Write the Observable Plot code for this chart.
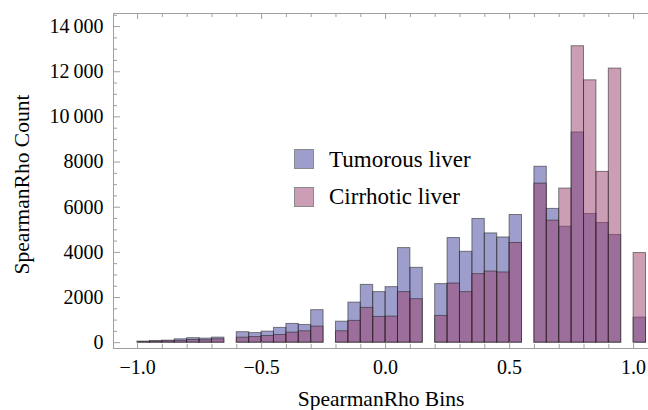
<!DOCTYPE html>
<html>
<head>
<meta charset="utf-8">
<script src="https://cdn.jsdelivr.net/npm/d3@7"></script>
<script src="https://cdn.jsdelivr.net/npm/@observablehq/plot@0.6"></script>
<style>
  html, body { margin: 0; padding: 0; background: #fff; overflow: hidden; }
  #wrap { position: relative; width: 648px; height: 410px; font-family: "Liberation Serif", "Times New Roman", serif; }
  .leg { position: absolute; left: 294px; width: 300px; height: 24px; }
  .sw { position: absolute; left: 0; top: 0; width: 18px; height: 18px; border: 1px solid #8a8a8a; box-sizing: content-box; }
  .lt { position: absolute; left: 35px; top: -1.5px; font-size: 23px; line-height: 1; color: #000; white-space: nowrap; }
</style>
</head>
<body>
<div id="wrap"></div>
<script>
// Bin left edges (bin width 0.05)
const binStart = [-1.00,-0.95,-0.90,-0.85,-0.80,-0.75,-0.70,-0.65,-0.60,-0.55,
                  -0.50,-0.45,-0.40,-0.35,-0.30,-0.25,-0.20,-0.15,-0.10,-0.05,
                   0.00, 0.05, 0.10, 0.15, 0.20, 0.25, 0.30, 0.35, 0.40, 0.45,
                   0.50, 0.55, 0.60, 0.65, 0.70, 0.75, 0.80, 0.85, 0.90, 0.95,
                   1.00];
const binWidth = 0.05;
const seriesNames = ["Tumorous liver", "Cirrhotic liver"];
const tumorous = [50, 75, 90, 150, 200, 180, 225, 0, 465, 425,
                  490, 655, 830, 785, 1440, 0, 930, 1775, 2560, 2240,
                  2460, 4190, 3315, 0, 2595, 4635, 4025, 5480, 4840, 4660,
                  5655, 0, 7790, 5925, 5135, 9310, 5700, 5300, 4770, 0,
                  1110];
const cirrhotic = [20, 40, 60, 80, 120, 110, 150, 0, 222, 250,
                   295, 340, 445, 505, 710, 0, 505, 965, 1540, 1140,
                   1155, 2240, 1925, 0, 1185, 2620, 2240, 3035, 3150, 3110,
                   4415, 0, 7045, 5405, 6825, 13130, 11620, 7565, 12140, 0,
                   3970];
const xMajorTicks = [-1.0, -0.5, 0.0, 0.5, 1.0];
const xMinorTicks = [-0.9, -0.8, -0.7, -0.6, -0.4, -0.3, -0.2, -0.1, 0.1, 0.2, 0.3, 0.4, 0.6, 0.7, 0.8, 0.9];
const yMajorTicks = [0, 2000, 4000, 6000, 8000, 10000, 12000, 14000];
const yMinorTicks = [500, 1000, 1500, 2500, 3000, 3500, 4500, 5000, 5500, 6500, 7000, 7500,
                     8500, 9000, 9500, 10500, 11000, 11500, 12500, 13000, 13500, 14500];
const xLabel = "SpearmanRho Bins";
const yLabel = "SpearmanRho Count";
const xDomain = [-1.097, 1.06];
const yDomain = [-258, 14580];
const colors = ["#3d3d99", "#993d6b"];

const rows = (vals, name) => binStart.map((b, i) => ({x1: b, x2: b + binWidth, y: vals[i], series: name})).filter(d => d.y > 0);
const tData = rows(tumorous, seriesNames[0]);
const cData = rows(cirrhotic, seriesNames[1]);

const W = 648, H = 410, mL = 113, mR = 0, mT = 13, mB = 62;
const plotW = W - mL - mR, plotH = H - mT - mB;
const font = "Liberation Serif";
const fmtY = v => v >= 10000 ? String(v).replace(/(\d{2})(\d{3})$/, "$1\u2009$2") : String(v);
const fmtX = v => (v < 0 ? "\u2212" : "") + Math.abs(v).toFixed(1);
const frameColor = "#a0a0a0";

const chart = Plot.plot({
  width: W, height: H,
  marginLeft: mL, marginRight: mR, marginTop: mT, marginBottom: mB,
  style: {fontFamily: font, background: "white"},
  x: {domain: xDomain, axis: null},
  y: {domain: yDomain, axis: null},
  marks: [
    Plot.rectY(tData, {x1: "x1", x2: "x2", y: "y", fill: colors[0], fillOpacity: 0.5, stroke: "#222", strokeOpacity: 0.55, strokeWidth: 1}),
    Plot.rectY(cData, {x1: "x1", x2: "x2", y: "y", fill: colors[1], fillOpacity: 0.5, stroke: "#222", strokeOpacity: 0.55, strokeWidth: 1}),
    // frame: left, top, bottom
    Plot.ruleX([xDomain[0]], {stroke: frameColor}),
    Plot.ruleY([yDomain[0], yDomain[1]], {stroke: frameColor}),
    // bottom ticks (inward)
    Plot.ruleX(xMajorTicks, {stroke: frameColor, insetTop: plotH - 6}),
    Plot.ruleX(xMinorTicks, {stroke: frameColor, insetTop: plotH - 4}),
    // top ticks (inward)
    Plot.ruleX(xMajorTicks, {stroke: frameColor, insetBottom: plotH - 6}),
    Plot.ruleX(xMinorTicks, {stroke: frameColor, insetBottom: plotH - 4}),
    // left ticks (inward)
    Plot.ruleY(yMajorTicks, {stroke: frameColor, insetRight: plotW - 7}),
    Plot.ruleY(yMinorTicks, {stroke: frameColor, insetRight: plotW - 4}),
    // tick labels
    Plot.axisX(xMajorTicks, {anchor: "bottom", tickSize: 0, tickPadding: 11, tickFormat: fmtX, fontSize: 20, fill: "#000", fontFamily: font, label: null}),
    Plot.axisY(yMajorTicks, {anchor: "left", tickSize: 0, tickPadding: 10, tickFormat: fmtY, fontSize: 20, fill: "#000", fontFamily: font, label: null}),
    // axis titles
    Plot.text([xLabel], {frameAnchor: "bottom", textAnchor: "middle", lineAnchor: "bottom", dy: 57, fontSize: 21.5, fill: "#000", fontFamily: font}),
    Plot.text([yLabel], {frameAnchor: "left", textAnchor: "middle", lineAnchor: "middle", rotate: -90, dx: -91, dy: 3.5, fontSize: 21.5, fill: "#000", fontFamily: font})
  ]
});

const wrap = document.getElementById("wrap");
wrap.appendChild(chart);

// Legend overlay
const legendTops = [149, 186.5];
const swatchColors = ["rgb(158,158,204)", "rgb(204,158,181)"];
seriesNames.forEach((name, i) => {
  const item = document.createElement("div");
  item.className = "leg";
  item.style.top = legendTops[i] + "px";
  const sw = document.createElement("div");
  sw.className = "sw";
  sw.style.background = swatchColors[i];
  const t = document.createElement("div");
  t.className = "lt";
  t.textContent = name;
  item.appendChild(sw);
  item.appendChild(t);
  wrap.appendChild(item);
});
</script>
</body>
</html>
